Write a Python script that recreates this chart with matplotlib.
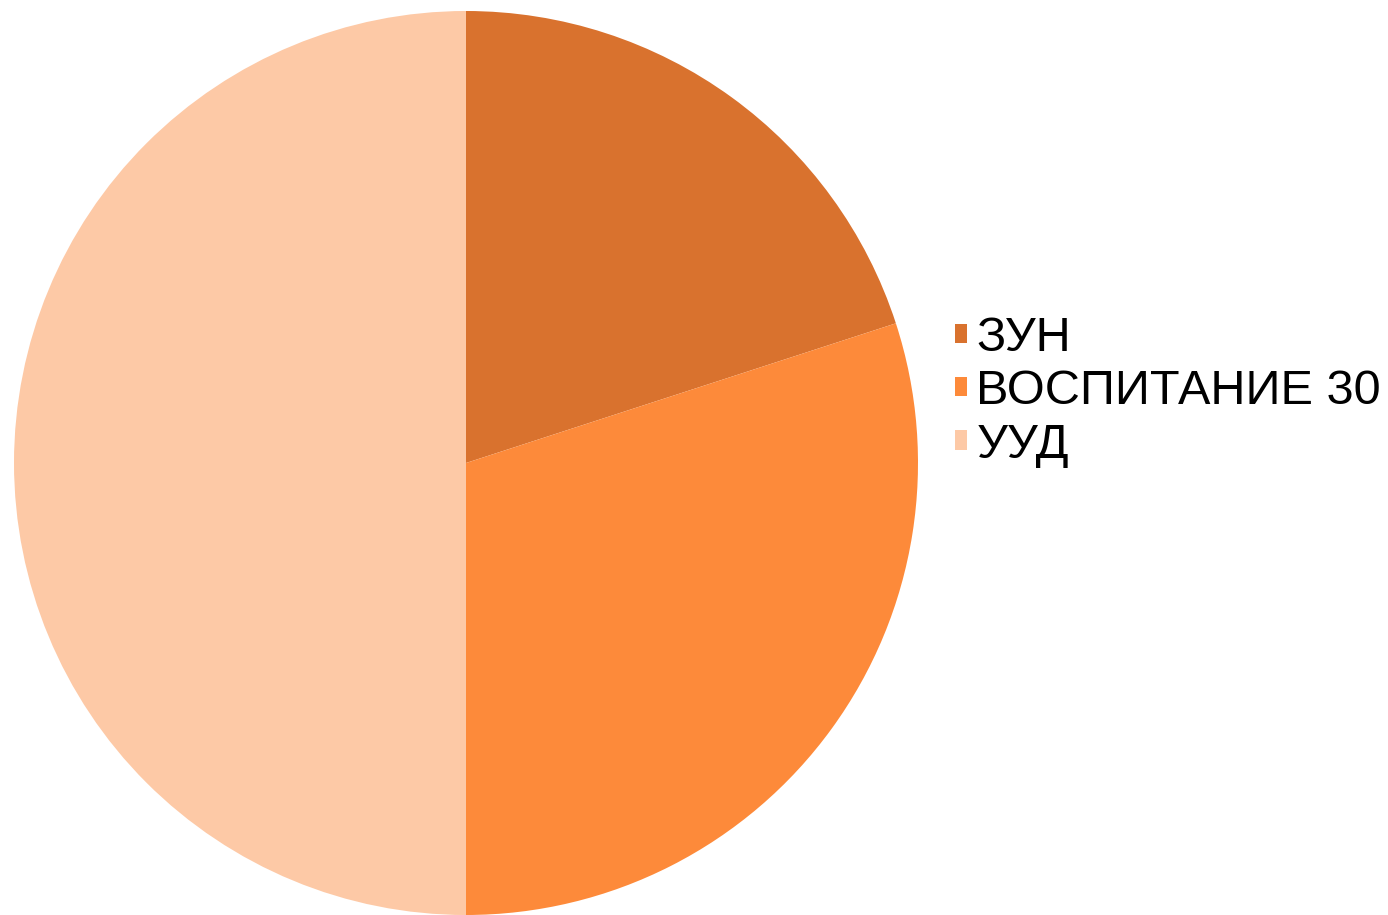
import matplotlib
matplotlib.use("Agg")
import matplotlib.pyplot as plt

labels = ["ЗУН", "ВОСПИТАНИЕ 30", "УУД"]
values = [20, 30, 50]
colors = ["#D9722E", "#FD8A3A", "#FDC9A6"]

W, H = 1388, 915
fig = plt.figure(figsize=(W / 100, H / 100), dpi=100)
ax = fig.add_axes([0, 0, 1, 1])

wedges, _ = ax.pie(values, colors=colors, startangle=90, counterclock=False,
                   center=(466, H - 463), radius=452, frame=True,
                   wedgeprops=dict(linewidth=0))
ax.set_xlim(0, W)
ax.set_ylim(0, H)
ax.axis("off")

leg = ax.legend(wedges, labels, loc="upper left", bbox_to_anchor=(955 / W, 1 - 316 / H),
                bbox_transform=fig.transFigure, frameon=False,
                prop={"family": "Liberation Sans", "size": 35},
                handlelength=0.24, handleheight=0.24, handletextpad=0.2,
                labelspacing=0.17, borderaxespad=0, borderpad=0)

fig.savefig("out.png", dpi=100)
